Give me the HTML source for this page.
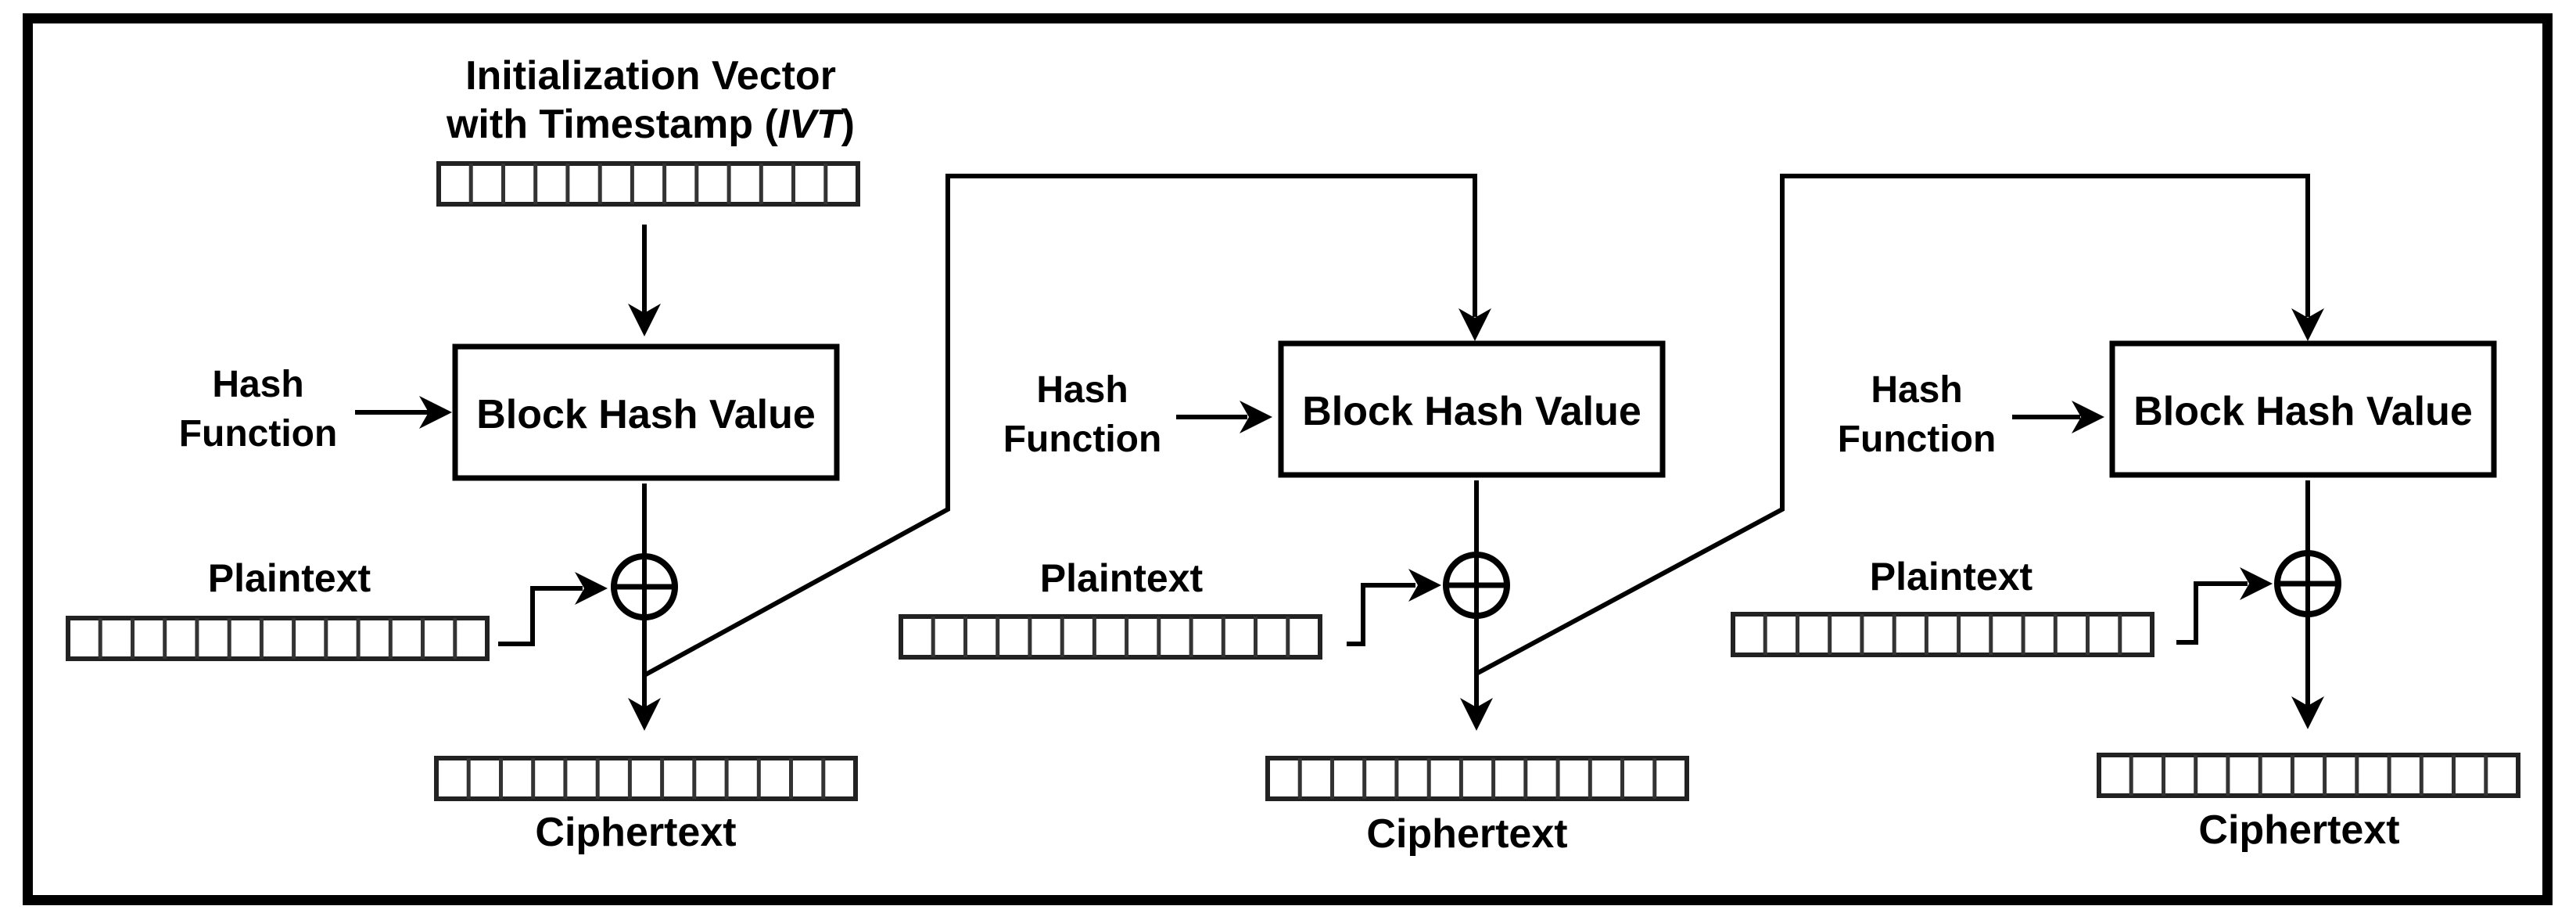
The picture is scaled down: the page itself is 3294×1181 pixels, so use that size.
<!DOCTYPE html>
<html><head><style>
html,body{margin:0;padding:0;background:#fff;}
svg{display:block;}
text{font-family:"Liberation Sans",Arial,sans-serif;font-weight:bold;fill:#000;}
</style></head><body>
<svg width="3294" height="1181" viewBox="0 0 3294 1181" xmlns="http://www.w3.org/2000/svg">
<defs>
<g id="bar">
<rect x="0" y="0" width="536" height="52" fill="#fff" stroke="#222" stroke-width="6"/>
<g stroke="#333" stroke-width="5">
<line x1="41.2" y1="0" x2="41.2" y2="52"/><line x1="82.5" y1="0" x2="82.5" y2="52"/><line x1="123.7" y1="0" x2="123.7" y2="52"/><line x1="164.9" y1="0" x2="164.9" y2="52"/><line x1="206.2" y1="0" x2="206.2" y2="52"/><line x1="247.4" y1="0" x2="247.4" y2="52"/><line x1="288.6" y1="0" x2="288.6" y2="52"/><line x1="329.8" y1="0" x2="329.8" y2="52"/><line x1="371.1" y1="0" x2="371.1" y2="52"/><line x1="412.3" y1="0" x2="412.3" y2="52"/><line x1="453.5" y1="0" x2="453.5" y2="52"/><line x1="494.8" y1="0" x2="494.8" y2="52"/>
</g>
</g>
<path id="adown" d="M0,0 L-21,-42 L0,-30 L21,-42 Z" fill="#000"/>
</defs>
<rect x="35.5" y="23.5" width="3222" height="1127" fill="none" stroke="#000" stroke-width="13"/>

<text x="832" y="114" font-size="52" text-anchor="middle">Initialization Vector</text>
<text x="832" y="176" font-size="52" text-anchor="middle">with Timestamp (<tspan font-style="italic">IVT</tspan>)</text>
<use href="#bar" x="561" y="209"/>

<g stroke="#000" stroke-width="6" fill="none">
<line x1="824" y1="287" x2="824" y2="410"/>
<rect x="582" y="443" width="488" height="168" stroke-width="7"/>
<line x1="454" y1="527" x2="550" y2="527"/>
<line x1="824" y1="618" x2="824" y2="905"/>
<circle cx="824" cy="750" r="39" stroke-width="8"/>
<line x1="785" y1="750" x2="863" y2="750" stroke-width="7"/>
<polyline points="637,823 681,823 681,752 745,752"/>
<polyline points="824,863 1212,651 1212,225 1886,225 1886,405"/>
<rect x="1638" y="439" width="488" height="168" stroke-width="7"/>
<line x1="1504" y1="533" x2="1595" y2="533"/>
<line x1="1888" y1="614" x2="1888" y2="905"/>
<circle cx="1888" cy="748" r="39" stroke-width="8"/>
<line x1="1849" y1="748" x2="1927" y2="748" stroke-width="7"/>
<polyline points="1722,823 1743,823 1743,748 1810,748"/>
<polyline points="1888,861 2279,651 2279,225 2951,225 2951,405"/>
<rect x="2701" y="439" width="488" height="168" stroke-width="7"/>
<line x1="2573" y1="533" x2="2660" y2="533"/>
<line x1="2951" y1="614" x2="2951" y2="903"/>
<circle cx="2951" cy="746" r="39" stroke-width="8"/>
<line x1="2912" y1="746" x2="2990" y2="746" stroke-width="7"/>
<polyline points="2783,821 2808,821 2808,746 2874,746"/>
</g>
<g fill="#000">
<use href="#adown" x="824" y="430"/>
<use href="#adown" x="824" y="934"/>
<use href="#adown" x="1886" y="436"/>
<use href="#adown" x="1888" y="934"/>
<use href="#adown" x="2951" y="436"/>
<use href="#adown" x="2951" y="932"/>
<use href="#adown" transform="translate(578,527) rotate(-90)"/>
<use href="#adown" transform="translate(1627,533) rotate(-90)"/>
<use href="#adown" transform="translate(2691,533) rotate(-90)"/>
<use href="#adown" transform="translate(777,752) rotate(-90)"/>
<use href="#adown" transform="translate(1843,748) rotate(-90)"/>
<use href="#adown" transform="translate(2906,746) rotate(-90)"/>
</g>

<text x="826" y="547" font-size="52" text-anchor="middle">Block Hash Value</text>
<text x="1882" y="543" font-size="52" text-anchor="middle">Block Hash Value</text>
<text x="2945" y="543" font-size="52" text-anchor="middle">Block Hash Value</text>

<text x="330" y="507" font-size="48" text-anchor="middle">Hash</text>
<text x="330" y="570" font-size="48" text-anchor="middle">Function</text>
<text x="1384" y="514" font-size="48" text-anchor="middle">Hash</text>
<text x="1384" y="577" font-size="48" text-anchor="middle">Function</text>
<text x="2451" y="514" font-size="48" text-anchor="middle">Hash</text>
<text x="2451" y="577" font-size="48" text-anchor="middle">Function</text>

<text x="370" y="756" font-size="50" text-anchor="middle">Plaintext</text>
<text x="1434" y="756" font-size="50" text-anchor="middle">Plaintext</text>
<text x="2495" y="754" font-size="50" text-anchor="middle">Plaintext</text>

<use href="#bar" x="87" y="790"/>
<use href="#bar" x="1152" y="788"/>
<use href="#bar" x="2216" y="785"/>

<use href="#bar" x="558" y="969"/>
<use href="#bar" x="1621" y="969"/>
<use href="#bar" x="2684" y="965"/>

<text x="813" y="1081" font-size="52" text-anchor="middle">Ciphertext</text>
<text x="1876" y="1083" font-size="52" text-anchor="middle">Ciphertext</text>
<text x="2940" y="1078" font-size="52" text-anchor="middle">Ciphertext</text>
</svg>
</body></html>
